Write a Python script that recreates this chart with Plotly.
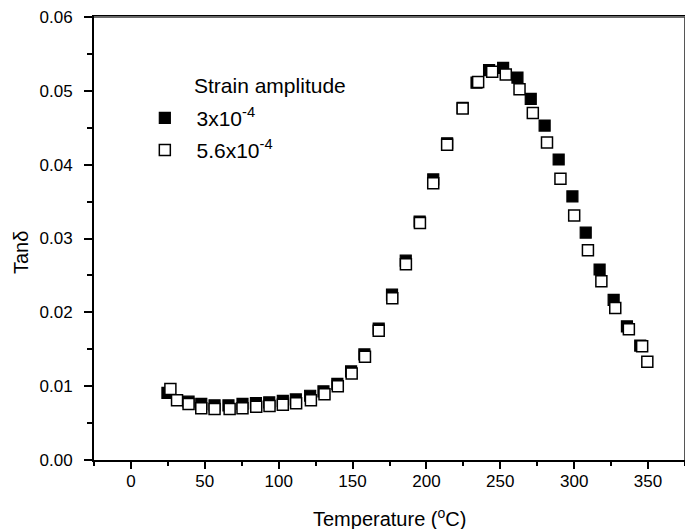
import plotly.graph_objects as go

# Strain amplitude 3x10^-4 (filled squares)
temp_a = [24.7, 39.0, 47.6, 56.6, 66.0, 75.5, 84.6, 93.6, 102.8, 111.6, 121.3, 130.3,
          139.7, 149.0, 158.0, 167.7, 176.7, 186.0, 195.4, 204.6, 214.0, 224.5, 233.9,
          242.4, 251.9, 261.6, 270.6, 280.0, 289.5, 298.8, 307.8, 317.2, 326.7, 335.7, 344.7]
tan_a = [0.0091, 0.0079, 0.0076, 0.0074, 0.0074, 0.0076, 0.0077, 0.0078, 0.0080, 0.0082,
         0.0087, 0.0093, 0.0103, 0.0120, 0.0143, 0.0178, 0.0224, 0.0270, 0.0323, 0.0380,
         0.0429, 0.0477, 0.0511, 0.0528, 0.0531, 0.0518, 0.0489, 0.0453, 0.0407, 0.0357,
         0.0308, 0.0258, 0.0217, 0.0181, 0.0155]

# Strain amplitude 5.6x10^-4 (open squares)
temp_b = [26.7, 31.2, 39.0, 47.6, 56.6, 66.8, 75.5, 84.8, 93.8, 102.8, 111.8, 121.8,
          131.0, 140.0, 149.4, 158.4, 167.7, 176.9, 186.1, 195.6, 204.6, 214.0, 224.5,
          235.0, 244.5, 253.7, 263.0, 272.0, 281.6, 290.7, 300.0, 309.3, 318.4, 327.8,
          337.0, 346.0, 349.5]
tan_b = [0.0096, 0.0081, 0.0076, 0.0070, 0.0069, 0.0069, 0.0070, 0.0072, 0.0073, 0.0075,
         0.0077, 0.0081, 0.0089, 0.0100, 0.0117, 0.0140, 0.0175, 0.0219, 0.0265, 0.0321,
         0.0375, 0.0427, 0.0476, 0.0512, 0.0526, 0.0522, 0.0502, 0.0470, 0.0430, 0.0381,
         0.0331, 0.0284, 0.0242, 0.0206, 0.0177, 0.0154, 0.0133]

x_ticks = [0, 50, 100, 150, 200, 250, 300, 350]
y_ticks = [0.00, 0.01, 0.02, 0.03, 0.04, 0.05, 0.06]

FONT = "Liberation Sans, Arial, sans-serif"

fig = go.Figure()
fig.add_trace(go.Scatter(
    x=temp_a, y=tan_a, mode="markers", name="  3x10<sup>-4</sup>",
    legendgroup="a",
    marker=dict(symbol="square", size=11, color="black",
                line=dict(color="black", width=1.2)),
))
fig.add_trace(go.Scatter(
    x=temp_b, y=tan_b, mode="markers", name="  5.6x10<sup>-4</sup>",
    legendgroup="b",
    marker=dict(symbol="square", size=11, color="white",
                line=dict(color="black", width=1.5)),
))

axis_common = dict(
    showline=True, linecolor="black", linewidth=1.8, mirror=True,
    ticks="outside", tickwidth=1.5, tickcolor="black",
    showgrid=False, zeroline=False, automargin=False,
    ticklabeloverflow="allow",
    tickfont=dict(family=FONT, size=17, color="black"),
)

# The page body adds an 8px margin, so the figure is sized to compensate.
fig.update_layout(
    width=685, height=521,
    margin=dict(l=86, r=8, t=9, b=69),
    paper_bgcolor="white", plot_bgcolor="white",
    font=dict(family=FONT, color="black"),
    showlegend=True,
    legend=dict(
        x=0.086, y=0.818, xanchor="left", yanchor="top",
        bgcolor="rgba(0,0,0,0)",
        font=dict(family=FONT, size=21, color="black"),
        traceorder="grouped", tracegroupgap=2,
    ),
    annotations=[
        dict(text="Strain amplitude", xref="paper", yref="paper",
             x=0.1653, y=0.8454, xanchor="left", yanchor="middle", showarrow=False,
             font=dict(family=FONT, size=21, color="black")),
        dict(text="Tanδ", xref="paper", yref="paper", textangle=-90,
             x=0, y=0.467, xanchor="center", yanchor="middle", xshift=-73,
             showarrow=False, font=dict(family=FONT, size=20, color="black")),
        dict(text="Temperature (<sup>o</sup>C)", xref="paper", yref="paper",
             x=0.5, y=0, xanchor="center", yanchor="middle", yshift=-57,
             showarrow=False, font=dict(family=FONT, size=20, color="black")),
    ],
    shapes=[
        dict(type="line", xref="paper", yref="paper", x0=0, x1=1, y0=1, y1=1,
             layer="above", line=dict(color="#6a6a6a", width=1.8)),
        dict(type="line", xref="paper", yref="paper", x0=1, x1=1, y0=0, y1=1,
             layer="above", line=dict(color="#444444", width=1.8)),
    ],
    xaxis=dict(
        range=[-25, 375], tickvals=x_ticks, ticklen=7, ticklabelstandoff=-2,
        minor=dict(dtick=25, tick0=0, ticks="outside", ticklen=4, tickwidth=1.5,
                   tickcolor="black"),
        **axis_common,
    ),
    yaxis=dict(
        range=[0, 0.06], tickvals=y_ticks, tickformat=".2f", ticklen=8,
        ticklabelstandoff=8,
        minor=dict(dtick=0.005, tick0=0, ticks="outside", ticklen=5, tickwidth=1.5,
                   tickcolor="black"),
        **axis_common,
    ),
)

fig.write_html("out.html")
